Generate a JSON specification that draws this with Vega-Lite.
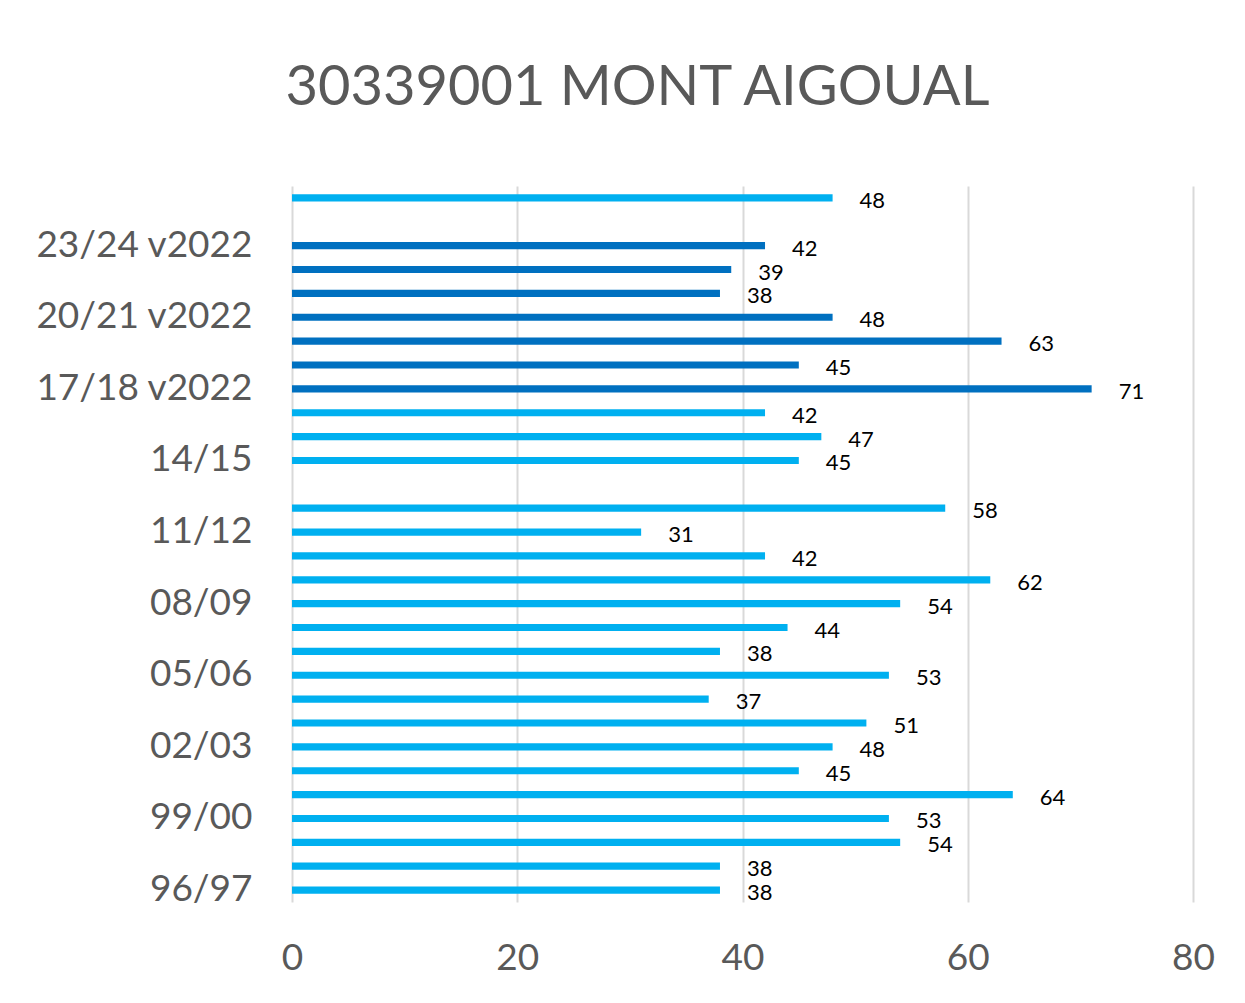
{
  "$schema": "https://vega.github.io/schema/vega-lite/v6.json",
  "autosize": "none",
  "width": 901,
  "height": 716,
  "padding": {"left": 292, "top": 186, "right": 52, "bottom": 101},
  "background": "white",
  "title": {
    "text": "30339001 MONT AIGOUAL",
    "font": "Lato",
    "fontSize": 56,
    "fontWeight": "normal",
    "color": "#595959",
    "anchor": "middle",
    "dx": -105,
    "offset": 61
  },
  "data": {
    "values": [
      {"season": "96/97", "value": 38, "version": "old"},
      {"season": "97/98", "value": 38, "version": "old"},
      {"season": "98/99", "value": 54, "version": "old"},
      {"season": "99/00", "value": 53, "version": "old"},
      {"season": "00/01", "value": 64, "version": "old"},
      {"season": "01/02", "value": 45, "version": "old"},
      {"season": "02/03", "value": 48, "version": "old"},
      {"season": "03/04", "value": 51, "version": "old"},
      {"season": "04/05", "value": 37, "version": "old"},
      {"season": "05/06", "value": 53, "version": "old"},
      {"season": "06/07", "value": 38, "version": "old"},
      {"season": "07/08", "value": 44, "version": "old"},
      {"season": "08/09", "value": 54, "version": "old"},
      {"season": "09/10", "value": 62, "version": "old"},
      {"season": "10/11", "value": 42, "version": "old"},
      {"season": "11/12", "value": 31, "version": "old"},
      {"season": "12/13", "value": 58, "version": "old"},
      {"season": "14/15", "value": 45, "version": "old"},
      {"season": "15/16", "value": 47, "version": "old"},
      {"season": "16/17", "value": 42, "version": "old"},
      {"season": "17/18 v2022", "value": 71, "version": "v2022"},
      {"season": "18/19 v2022", "value": 45, "version": "v2022"},
      {"season": "19/20 v2022", "value": 63, "version": "v2022"},
      {"season": "20/21 v2022", "value": 48, "version": "v2022"},
      {"season": "21/22 v2022", "value": 38, "version": "v2022"},
      {"season": "22/23 v2022", "value": 39, "version": "v2022"},
      {"season": "23/24 v2022", "value": 42, "version": "v2022"},
      {"season": "24/25", "value": 48, "version": "old"}
    ]
  },
  "encoding": {
    "y": {
      "field": "season",
      "type": "nominal",
      "title": null,
      "scale": {
        "domain": ["24/25", "24/25 v2022", "23/24 v2022", "22/23 v2022", "21/22 v2022", "20/21 v2022", "19/20 v2022", "18/19 v2022", "17/18 v2022", "16/17", "15/16", "14/15", "13/14", "12/13", "11/12", "10/11", "09/10", "08/09", "07/08", "06/07", "05/06", "04/05", "03/04", "02/03", "01/02", "00/01", "99/00", "98/99", "97/98", "96/97"],
        "paddingInner": 0.7,
        "paddingOuter": 0.35
      },
      "axis": {
        "domain": false,
        "ticks": false,
        "grid": false,
        "labelFont": "Lato",
        "labelFontSize": 37,
        "labelColor": "#595959",
        "labelPadding": 40,
        "labelLimit": 0,
        "labelOverlap": false,
        "labelBaseline": "middle",
        "labelExpr": "indexof(['96/97','99/00','02/03','05/06','08/09','11/12','14/15','17/18 v2022','20/21 v2022','23/24 v2022'], datum.value) >= 0 ? datum.value : ''"
      }
    },
    "x": {
      "field": "value",
      "type": "quantitative",
      "title": null,
      "scale": {"domain": [0, 80], "nice": false},
      "axis": {
        "values": [0, 20, 40, 60, 80],
        "domain": false,
        "ticks": false,
        "grid": true,
        "gridColor": "#d9d9d9",
        "gridWidth": 2,
        "labelFont": "Lato",
        "labelFontSize": 37,
        "labelColor": "#595959",
        "labelPadding": 38,
        "labelFlush": false
      }
    }
  },
  "layer": [
    {
      "mark": {"type": "bar"},
      "encoding": {
        "color": {
          "field": "version",
          "type": "nominal",
          "scale": {"domain": ["old", "v2022"], "range": ["#00B0F0", "#0070C0"]},
          "legend": null
        }
      }
    },
    {
      "mark": {"type": "text", "align": "left", "baseline": "middle", "dx": 27, "dy": 3, "font": "Lato", "fontSize": 22, "color": "#000000"},
      "encoding": {
        "text": {"field": "value", "type": "quantitative"}
      }
    }
  ],
  "config": {
    "view": {"stroke": null}
  }
}
